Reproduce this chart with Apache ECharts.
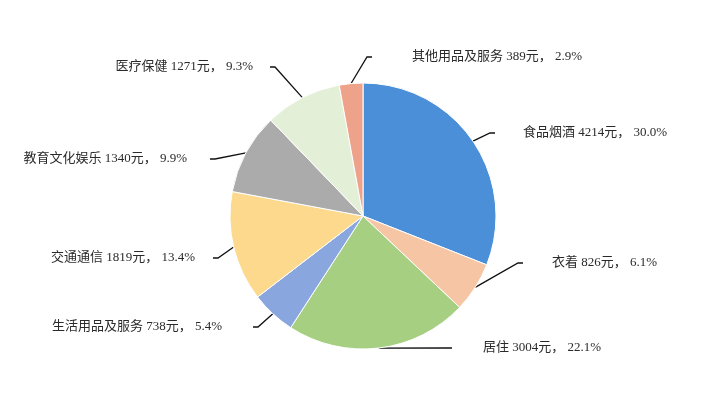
<!DOCTYPE html>
<html>
<head>
<meta charset="utf-8">
<script src="https://cdn.jsdelivr.net/npm/echarts@6/dist/echarts.min.js"></script>
<style>
html,body{margin:0;padding:0;background:#fff;}
#main{width:706px;height:404px;}
</style>
</head>
<body>
<div id="main"></div>
<script>
var names = ['食品烟酒','衣着','居住','生活用品及服务','交通通信','教育文化娱乐','医疗保健','其他用品及服务'];
var amounts = [4214,826,3004,738,1819,1340,1271,389];
var shares = ['30.0%','6.1%','22.1%','5.4%','13.4%','9.9%','9.3%','2.9%'];
var colors = ['#4a8fd8','#f6c6a4','#a6cf82','#8aa6de','#fcd98c','#ababab','#e3efd6','#eea28a'];

// label anchor: x where the leader line ends, y middle, side, gap before text
var labelPos = [
	[495,133,'left',28],
	[523,263,'left',29],
	[452,348,'left',31],
	[253,327,'right',31],
	[213,258,'right',18],
	[210,159,'right',23],
	[270,67,'right',17],
	[372,57,'left',40]
];

var chart = echarts.init(document.getElementById('main'));

var data = [];
var rich = {};
for (var i = 0; i < names.length; i++) {
	data.push({
		name: names[i],
		value: amounts[i],
		share: shares[i],
		itemStyle: {color: colors[i]}
	});
	rich['g' + i] = {width: labelPos[i][3], fontSize: 13};
}

chart.setOption({
	backgroundColor:'#fff',
	animation:false,
	series:[{
		type:'pie',
		center:[363,216],
		radius:133,
		startAngle:90,
		clockwise:true,
		data:data,
		itemStyle:{
			borderColor:'#fff',
			borderWidth:1
		},
		label:{
			formatter:function(p){
				var txt = p.name + ' ' + p.value + '元， ' + p.data.share;
				var gap = '{g' + p.dataIndex + '| }';
				return labelPos[p.dataIndex][2] == 'left' ? gap + txt : txt + gap;
			},
			fontFamily:'"Liberation Serif","Noto Sans CJK SC",serif',
			fontSize:13,
			color:'#2a2a2a',
			rich:rich
		},
		labelLine:{
			length:16,
			length2:5,
			lineStyle:{color:'#111',width:1.3}
		},
		labelLayout:function(p){
			var lp = labelPos[p.dataIndex];
			return {
				x:lp[0],
				y:lp[1],
				align:lp[2],
				verticalAlign:'middle'
			};
		}
	}]
});
</script>
</body>
</html>
